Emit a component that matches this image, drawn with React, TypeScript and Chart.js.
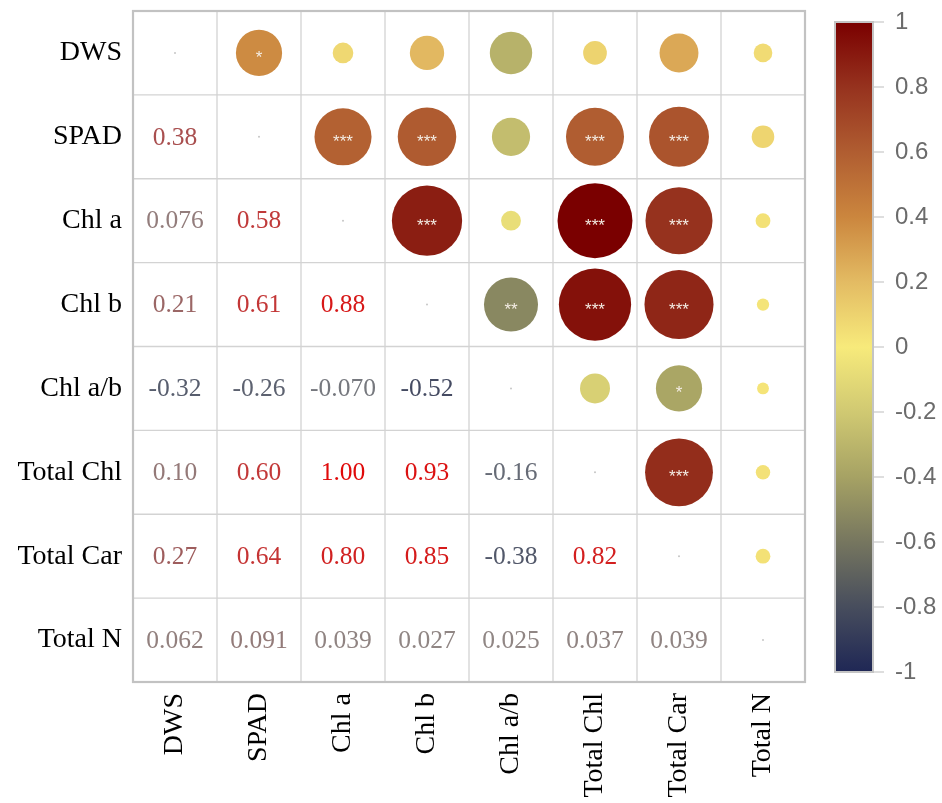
import { useEffect, useRef } from "react";
import { Chart, registerables } from "chart.js";

Chart.register(...registerables);

const variables = ["DWS", "SPAD", "Chl a", "Chl b", "Chl a/b", "Total Chl", "Total Car", "Total N"];

// Pearson r, lower triangle: each row holds r against the variables listed before it
const rSPAD = [0.38];
const rChlA = [0.076, 0.58];
const rChlB = [0.21, 0.61, 0.88];
const rChlAB = [-0.32, -0.26, -0.07, -0.52];
const rTotalChl = [0.1, 0.6, 1.0, 0.93, -0.16];
const rTotalCar = [0.27, 0.64, 0.8, 0.85, -0.38, 0.82];
const rTotalN = [0.062, 0.091, 0.039, 0.027, 0.025, 0.037, 0.039];

// significance marks, same layout as the r rows
const sigSPAD = ["*"];
const sigChlA = ["", "***"];
const sigChlB = ["", "***", "***"];
const sigChlAB = ["", "", "", "**"];
const sigTotalChl = ["", "***", "***", "***", ""];
const sigTotalCar = ["", "***", "***", "***", "*", "***"];
const sigTotalN = ["", "", "", "", "", "", ""];

const colorbarTicks = [1, 0.8, 0.6, 0.4, 0.2, 0, -0.2, -0.4, -0.6, -0.8, -1];

const lowerR: number[][] = [[], rSPAD, rChlA, rChlB, rChlAB, rTotalChl, rTotalCar, rTotalN];
const lowerSig: string[][] = [[], sigSPAD, sigChlA, sigChlB, sigChlAB, sigTotalChl, sigTotalCar, sigTotalN];

// colour ramps
const fillStops: [number, string][] = [
  [-1, "#1f2755"],
  [-0.8, "#474d5d"],
  [-0.6, "#76765f"],
  [-0.4, "#a6a264"],
  [-0.2, "#d0c972"],
  [0, "#f7ea7b"],
  [0.2, "#e3bb63"],
  [0.4, "#cb863e"],
  [0.6, "#b05d31"],
  [0.8, "#96321e"],
  [1, "#7a0000"],
];
const textStops: [number, string][] = [
  [-1, "#1c2250"],
  [-0.5, "#474d63"],
  [-0.1, "#6b7079"],
  [0, "#8e8a88"],
  [0.3, "#a05858"],
  [0.6, "#c23838"],
  [1, "#e00a0a"],
];

function hexToRgb(h: string): number[] {
  const n = parseInt(h.slice(1), 16);
  return [(n >> 16) & 255, (n >> 8) & 255, n & 255];
}

function ramp(stops: [number, string][], v: number): string {
  const t = Math.max(-1, Math.min(1, v));
  for (let k = 0; k < stops.length - 1; k++) {
    const [a, ca] = stops[k];
    const [b, cb] = stops[k + 1];
    if (t >= a && t <= b) {
      const f = (t - a) / (b - a);
      const A = hexToRgb(ca);
      const B = hexToRgb(cb);
      const c = A.map((x, i) => Math.round(x + (B[i] - x) * f));
      return `rgb(${c[0]},${c[1]},${c[2]})`;
    }
  }
  return stops[stops.length - 1][1];
}

function formatR(v: number): string {
  return Math.abs(v) < 0.1 ? v.toFixed(3) : v.toFixed(2);
}

// upper triangle circles: column = later variable, row = earlier variable
const upperPoints: { x: number; y: number; v: number }[] = [];
lowerR.forEach((row, i) => row.forEach((v, j) => upperPoints.push({ x: i, y: j, v })));
const diagPoints = variables.map((_, i) => ({ x: i, y: i }));

const SERIF = '"Liberation Serif", "Times New Roman", serif';
const SANS = '"Liberation Sans", Arial, sans-serif';

const cellGrid = {
  id: "cellGrid",
  beforeDatasetsDraw(chart: any) {
    const { ctx, chartArea, scales } = chart;
    const { x, y } = scales;
    ctx.save();
    ctx.strokeStyle = "#d3d3d3";
    ctx.lineWidth = 1.3;
    for (let i = 1; i < variables.length; i++) {
      const px = x.getPixelForValue(i - 0.5);
      const py = y.getPixelForValue(i - 0.5);
      ctx.beginPath();
      ctx.moveTo(px, chartArea.top);
      ctx.lineTo(px, chartArea.bottom);
      ctx.moveTo(chartArea.left, py);
      ctx.lineTo(chartArea.right, py);
      ctx.stroke();
    }
    ctx.strokeStyle = "#c2c2c2";
    ctx.lineWidth = 2.2;
    ctx.strokeRect(chartArea.left, chartArea.top, chartArea.right - chartArea.left, chartArea.bottom - chartArea.top);
    ctx.restore();
  },
};

// circles for the upper triangle, sized by sqrt|r| relative to the cell
const circles = {
  id: "circles",
  afterDatasetsDraw(chart: any) {
    const { ctx, scales } = chart;
    const { x, y } = scales;
    const cell = Math.abs(x.getPixelForValue(1) - x.getPixelForValue(0));
    ctx.save();
    upperPoints.forEach((p) => {
      ctx.beginPath();
      ctx.arc(x.getPixelForValue(p.x), y.getPixelForValue(p.y), Math.sqrt(Math.abs(p.v)) * cell * 0.446, 0, Math.PI * 2);
      ctx.fillStyle = ramp(fillStops, p.v);
      ctx.fill();
    });
    ctx.restore();
  },
};

const cellLabels = {
  id: "cellLabels",
  afterDatasetsDraw(chart: any) {
    const { ctx, scales } = chart;
    const { x, y } = scales;
    ctx.save();
    ctx.textAlign = "center";
    lowerR.forEach((row, i) =>
      row.forEach((v, j) => {
        ctx.font = `25.5px ${SERIF}`;
        ctx.textBaseline = "middle";
        ctx.fillStyle = ramp(textStops, v);
        ctx.fillText(formatR(v), x.getPixelForValue(j), y.getPixelForValue(i) + 1);
        const s = lowerSig[i][j];
        if (s) {
          ctx.font = `17px ${SANS}`;
          ctx.textBaseline = "alphabetic";
          ctx.fillStyle = "#f4ede4";
          ctx.fillText(s, x.getPixelForValue(i), y.getPixelForValue(j) + 10);
        }
      })
    );
    ctx.restore();
  },
};

const colorbar = {
  id: "colorbar",
  afterDraw(chart: any) {
    const { ctx, chartArea } = chart;
    const left = chartArea.right + 30;
    const right = left + 38;
    const top = chartArea.top + 11;
    const bottom = chartArea.bottom - 10;
    const yFor = (v: number) => top + ((1 - v) / 2) * (bottom - top);
    ctx.save();
    const g = ctx.createLinearGradient(0, top, 0, bottom);
    fillStops.forEach(([v, c]) => g.addColorStop((1 - v) / 2, c));
    ctx.fillStyle = g;
    ctx.fillRect(left, top, right - left, bottom - top);
    ctx.strokeStyle = "#c4c4c4";
    ctx.lineWidth = 2;
    ctx.strokeRect(left, top, right - left, bottom - top);
    ctx.lineWidth = 1;
    ctx.strokeStyle = "#bdbdbd";
    ctx.font = `24px ${SANS}`;
    ctx.fillStyle = "#6b6b6b";
    ctx.textAlign = "left";
    ctx.textBaseline = "middle";
    colorbarTicks.forEach((v) => {
      const py = yFor(v);
      ctx.beginPath();
      ctx.moveTo(right + 1, py);
      ctx.lineTo(right + 11, py);
      ctx.stroke();
      ctx.fillText(String(v), right + 22, py);
    });
    ctx.restore();
  },
};

export default function App() {
  const canvasRef = useRef<HTMLCanvasElement>(null);

  useEffect(() => {
    const canvas = canvasRef.current;
    if (!canvas) return;
    const chart = new Chart(canvas, {
      type: "bubble",
      data: {
        datasets: [
          {
            label: "diagonal",
            data: diagPoints as any,
            backgroundColor: "#c6c6c6",
            borderWidth: 0,
            radius: 1,
          },
        ],
      },
      options: {
        responsive: false,
        animation: false,
        events: [],
        layout: { padding: { left: 0, top: 11, right: 137, bottom: 0 } },
        plugins: { legend: { display: false }, tooltip: { enabled: false } },
        scales: {
          x: {
            type: "linear",
            min: -0.5,
            max: 7.5,
            afterBuildTicks: (s: any) => {
              s.ticks = variables.map((_, i) => ({ value: i }));
            },
            afterFit: (s: any) => {
              s.height = 121;
              s.paddingLeft = 0;
              s.paddingRight = 0;
            },
            grid: { display: false, drawTicks: false },
            border: { display: false },
            ticks: {
              autoSkip: false,
              maxRotation: 90,
              minRotation: 90,
              padding: 11,
              color: "#000",
              font: { family: SERIF, size: 28 },
              callback: (v: any) => variables[v] ?? "",
            },
          },
          y: {
            type: "linear",
            reverse: true,
            min: -0.5,
            max: 7.5,
            afterBuildTicks: (s: any) => {
              s.ticks = variables.map((_, i) => ({ value: i }));
            },
            afterFit: (s: any) => {
              s.width = 133;
              s.paddingTop = 0;
              s.paddingBottom = 0;
            },
            grid: { display: false, drawTicks: false },
            border: { display: false },
            ticks: {
              autoSkip: false,
              padding: 11,
              color: "#000",
              font: { family: SERIF, size: 28 },
              callback: (v: any) => variables[v] ?? "",
            },
          },
        },
      },
      plugins: [cellGrid, circles, cellLabels, colorbar],
    });
    return () => chart.destroy();
  }, []);

  return (
    <div style={{ position: "absolute", left: 0, top: 0, width: 942, height: 803, background: "#fff" }}>
      <canvas ref={canvasRef} width={942} height={803} style={{ display: "block" }} />
    </div>
  );
}
